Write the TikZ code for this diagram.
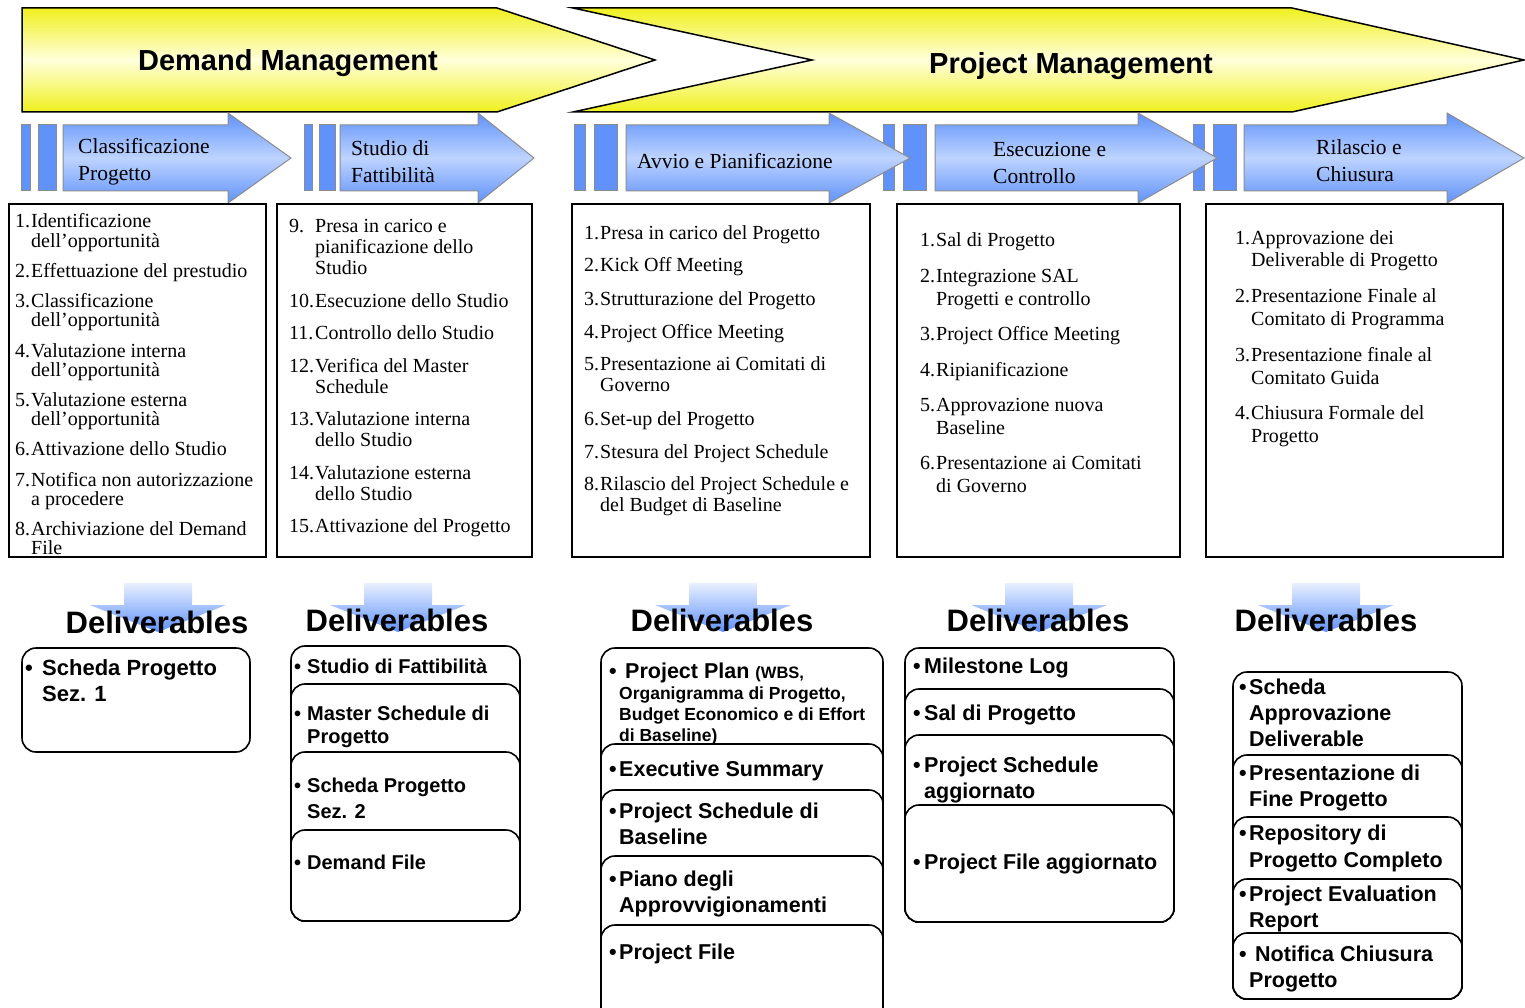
\documentclass[tikz,border=0pt]{standalone}
\usepackage{fontspec}
\setmainfont{Liberation Serif}
\newfontfamily\arialf{Liberation Sans}
\definecolor{ylw}{RGB}{240,240,30}
\definecolor{ylwc}{RGB}{255,255,220}
\definecolor{blu}{RGB}{96,146,250}
\definecolor{bluc}{RGB}{190,212,255}
\definecolor{bargray}{RGB}{140,140,140}
\definecolor{darrtop}{RGB}{232,240,255}
\definecolor{darrbot}{RGB}{95,145,250}
\newcommand\litem[3]{\makebox[#1][l]{#2}\begin{tabular}[t]{@{}l@{}}#3\end{tabular}}
\newcommand\ditem[2]{\makebox[#1][l]{•}\begin{tabular}[t]{@{}l@{}}#2\end{tabular}}
\newcommand\phasearrow[3]{\shadedraw[phasesh] (#1,125) -- (#2,125) -- (#2,113) -- (#3,158) -- (#2,203) -- (#2,191) -- (#1,191) -- cycle;}
\newcommand\phasebars[4]{\filldraw[barst] (#1,125) rectangle (#2,191); \filldraw[barst] (#3,125) rectangle (#4,191);}
\newcommand\delarrow[6]{\shade[darrow] (#1,583) -- (#2,583) -- (#2,605) -- (#4,605) -- (#5,#6) -- (#3,605) -- (#1,605) -- cycle;}
\begin{document}
\begin{tikzpicture}[x=1pt,y=-1pt,
  banner/.style={draw=black, line width=1.5pt, top color=ylw, bottom color=ylw, middle color=ylwc},
  phasesh/.style={draw=bargray, line width=1pt, top color=blu, bottom color=blu, middle color=bluc},
  barst/.style={fill=blu, draw=bargray, line width=1pt},
  lbox/.style={draw=black, line width=1.6pt},
  rbox/.style={draw=black, line width=1.6pt, fill=white, rounded corners=14pt},
  darrow/.style={top color=darrtop, bottom color=darrbot},
  titletxt/.style={font=\arialf\bfseries\fontsize{29}{32}\selectfont, inner sep=0pt},
  phtxt/.style={font=\fontsize{21.5}{27}\selectfont, align=left, anchor=west, inner sep=0pt},
  boxA/.style={anchor=base west, inner sep=0pt, font=\fontsize{20}{18}\selectfont},
  boxB/.style={anchor=base west, inner sep=0pt, font=\fontsize{20}{21}\selectfont},
  boxC/.style={anchor=base west, inner sep=0pt, font=\fontsize{20}{23}\selectfont},
  dtitle/.style={font=\arialf\bfseries\fontsize{31}{34}\selectfont, inner sep=0pt},
  dtxt/.style={anchor=base west, inner sep=0pt, font=\arialf\bfseries\fontsize{21.5}{26}\selectfont},
  dtxtb/.style={anchor=base west, inner sep=0pt, font=\arialf\bfseries\fontsize{20}{23}\selectfont},
  dsmall/.style={anchor=base west, inner sep=0pt, font=\arialf\bfseries\fontsize{17.5}{21}\selectfont}]
\useasboundingbox (0,0) rectangle (1525,1008);

% ---- top banners
\shadedraw[banner] (22,8) -- (497,8) -- (655,60) -- (497,112) -- (22,112) -- cycle;
\shadedraw[banner] (573,8) -- (1292,8) -- (1524,60) -- (1292,112) -- (573,112) -- (812,60) -- cycle;
\node[titletxt] (dm) at (288,63) {Demand Management};
\node[titletxt] (pm) at (1071,66) {Project Management};

% ---- phase arrows (bars first, arrows on top)
\phasebars{21}{30}{38}{56}
\phasebars{304}{312}{319}{335}
\phasebars{574}{585}{594}{617}
\phasebars{883}{894}{903}{926}
\phasebars{1193}{1204}{1213}{1236}
\phasearrow{63}{228}{291}
\phasearrow{340}{478}{534}
\phasearrow{626}{829}{910}
\phasearrow{935}{1138}{1217}
\phasearrow{1244}{1447}{1524}
\node[phtxt] (p1) at (78,162) {Classificazione\\Progetto};
\node[phtxt] (p2) at (351,162) {Studio di\\Fattibilità};
\node[phtxt] (p3) at (637,161) {Avvio e Pianificazione};
\node[phtxt] (p4) at (993,163) {Esecuzione e\\Controllo};
\node[phtxt] (p5) at (1316,161) {Rilascio e\\Chiusura};

% ---- activity boxes
\draw[lbox] (9,204) rectangle (266,557);
\draw[lbox] (277,204) rectangle (532,557);
\draw[lbox] (572,204) rectangle (870,557);
\draw[lbox] (897,204) rectangle (1180,557);
\draw[lbox] (1206,204) rectangle (1503,557);

\node[boxA] (a1) at (15,228) {\litem{16pt}{1.}{Identificazione\\dell’opportunità}};
\node[boxA] (a2) at (15,277) {\litem{16pt}{2.}{Effettuazione del prestudio}};
\node[boxA] (a3) at (15,307) {\litem{16pt}{3.}{Classificazione\\dell’opportunità}};
\node[boxA] (a4) at (15,357) {\litem{16pt}{4.}{Valutazione interna\\dell’opportunità}};
\node[boxA] (a5) at (15,406) {\litem{16pt}{5.}{Valutazione esterna\\dell’opportunità}};
\node[boxA] (a6) at (15,455) {\litem{16pt}{6.}{Attivazione dello Studio}};
\node[boxA] (a7) at (15,486) {\litem{16pt}{7.}{Notifica non autorizzazione\\a procedere}};
\node[boxA] (a8) at (15,535) {\litem{16pt}{8.}{Archiviazione del Demand\\File}};

\node[boxB] (b9) at (289,233) {\litem{26pt}{9.}{Presa in carico e\\pianificazione dello\\Studio}};
\node[boxB] (b10) at (289,307) {\litem{26pt}{10.}{Esecuzione dello Studio}};
\node[boxB] (b11) at (289,339) {\litem{26pt}{11.}{Controllo dello Studio}};
\node[boxB] (b12) at (289,372) {\litem{26pt}{12.}{Verifica del Master\\Schedule}};
\node[boxB] (b13) at (289,425) {\litem{26pt}{13.}{Valutazione interna\\dello Studio}};
\node[boxB] (b14) at (289,479) {\litem{26pt}{14.}{Valutazione esterna\\dello Studio}};
\node[boxB] (b15) at (289,532) {\litem{26pt}{15.}{Attivazione del Progetto}};

\node[boxB] (c1) at (584,240) {\litem{16pt}{1.}{Presa in carico del Progetto}};
\node[boxB] (c2) at (584,272) {\litem{16pt}{2.}{Kick Off Meeting}};
\node[boxB] (c3) at (584,305) {\litem{16pt}{3.}{Strutturazione del Progetto}};
\node[boxB] (c4) at (584,338) {\litem{16pt}{4.}{Project Office Meeting}};
\node[boxB] (c5) at (584,370) {\litem{16pt}{5.}{Presentazione ai Comitati di\\Governo}};
\node[boxB] (c6) at (584,425) {\litem{16pt}{6.}{Set-up del Progetto}};
\node[boxB] (c7) at (584,458) {\litem{16pt}{7.}{Stesura del Project Schedule}};
\node[boxB] (c8) at (584,490) {\litem{16pt}{8.}{Rilascio del Project Schedule e\\del Budget di Baseline}};

\node[boxC] (e1) at (920,247) {\litem{16pt}{1.}{Sal di Progetto}};
\node[boxC] (e2) at (920,282) {\litem{16pt}{2.}{Integrazione SAL\\Progetti e controllo}};
\node[boxC] (e3) at (920,340) {\litem{16pt}{3.}{Project Office Meeting}};
\node[boxC] (e4) at (920,376) {\litem{16pt}{4.}{Ripianificazione}};
\node[boxC] (e5) at (920,411) {\litem{16pt}{5.}{Approvazione nuova\\Baseline}};
\node[boxC] (e6) at (920,469) {\litem{16pt}{6.}{Presentazione ai Comitati\\di Governo}};

\node[boxC] (r1) at (1235,244) {\litem{16pt}{1.}{Approvazione dei\\Deliverable di Progetto}};
\node[boxC] (r2) at (1235,302) {\litem{16pt}{2.}{Presentazione Finale al\\Comitato di Programma}};
\node[boxC] (r3) at (1235,361) {\litem{16pt}{3.}{Presentazione finale al\\Comitato Guida}};
\node[boxC] (r4) at (1235,419) {\litem{16pt}{4.}{Chiusura Formale del\\Progetto}};

% ---- deliverables arrows and titles
\delarrow{124}{192}{90}{226}{158}{632}
\delarrow{364}{432}{330}{466}{398}{632}
\delarrow{689}{757}{655}{791}{723}{632}
\delarrow{1005}{1073}{971}{1107}{1039}{632}
\delarrow{1292}{1360}{1258}{1394}{1326}{632}
\node[dtitle] (d1) at (157,622) {Deliverables};
\node[dtitle] (d2) at (397,620) {Deliverables};
\node[dtitle] (d3) at (722,620) {Deliverables};
\node[dtitle] (d4) at (1038,620) {Deliverables};
\node[dtitle] (d5) at (1326,620) {Deliverables};

% ---- deliverable boxes
\draw[rbox] (22,648) rectangle (250,752);
\node[dtxt, font=\arialf\bfseries\fontsize{22}{26}\selectfont] (g1) at (25,675) {\ditem{17pt}{Scheda Progetto\\Sez. 1}};

\draw[rbox] (291,646) rectangle (520,921);
\draw[rbox] (291,684) rectangle (520,921);
\draw[rbox] (291,752) rectangle (520,921);
\draw[rbox] (291,830) rectangle (520,921);
\node[dtxtb] (h1) at (294,673) {\ditem{13pt}{Studio di Fattibilità}};
\node[dtxtb] (h2) at (294,720) {\ditem{13pt}{Master Schedule di\\Progetto}};
\node[dtxtb, font=\arialf\bfseries\fontsize{20}{26}\selectfont] (h3) at (294,792) {\ditem{13pt}{Scheda Progetto\\Sez. 2}};
\node[dtxtb] (h4) at (294,869) {\ditem{13pt}{Demand File}};

\draw[rbox] (601,648) rectangle (883,1030);
\draw[rbox] (601,744) rectangle (883,1030);
\draw[rbox] (601,790) rectangle (883,1030);
\draw[rbox] (601,856) rectangle (883,1030);
\draw[rbox] (601,925) rectangle (883,1030);
\node[dtxt] (k1) at (609,678) {\makebox[16pt][l]{•}Project Plan {\fontsize{16.5}{18}\selectfont (WBS,}};
\node[dsmall] (k1b) at (619,699) {\begin{tabular}[t]{@{}l@{}}Organigramma di Progetto,\\Budget Economico e di Effort\\di Baseline)\end{tabular}};
\node[dtxt] (k2) at (609,776) {\ditem{10pt}{Executive Summary}};
\node[dtxt] (k3) at (609,818) {\ditem{10pt}{Project Schedule di\\Baseline}};
\node[dtxt] (k4) at (609,886) {\ditem{10pt}{Piano degli\\Approvvigionamenti}};
\node[dtxt] (k5) at (609,959) {\ditem{10pt}{Project File}};

\draw[rbox] (905,648) rectangle (1174,922);
\draw[rbox] (905,689) rectangle (1174,922);
\draw[rbox] (905,735) rectangle (1174,922);
\draw[rbox] (905,805) rectangle (1174,922);
\node[dtxt] (m1) at (913,673) {\ditem{11pt}{Milestone Log}};
\node[dtxt] (m2) at (913,720) {\ditem{11pt}{Sal di Progetto}};
\node[dtxt] (m3) at (913,772) {\ditem{11pt}{Project Schedule\\aggiornato}};
\node[dtxt] (m4) at (913,869) {\ditem{11pt}{Project File aggiornato}};

\draw[rbox] (1233,672) rectangle (1462,999);
\draw[rbox] (1233,755) rectangle (1462,999);
\draw[rbox] (1233,817) rectangle (1462,999);
\draw[rbox] (1233,879) rectangle (1462,999);
\draw[rbox] (1233,933) rectangle (1462,999);
\node[dtxt] (n1) at (1239,694) {\ditem{10pt}{Scheda\\Approvazione\\Deliverable}};
\node[dtxt] (n2) at (1239,780) {\ditem{10pt}{Presentazione di\\Fine Progetto}};
\node[dtxt, font=\arialf\bfseries\fontsize{21.5}{27}\selectfont] (n3) at (1239,840) {\ditem{10pt}{Repository di\\Progetto Completo}};
\node[dtxt] (n4) at (1239,901) {\ditem{10pt}{Project Evaluation\\Report}};
\node[dtxt] (n5) at (1239,961) {\ditem{10pt}{\hspace{6pt}Notifica Chiusura\\Progetto}};
\end{tikzpicture}
\end{document}
